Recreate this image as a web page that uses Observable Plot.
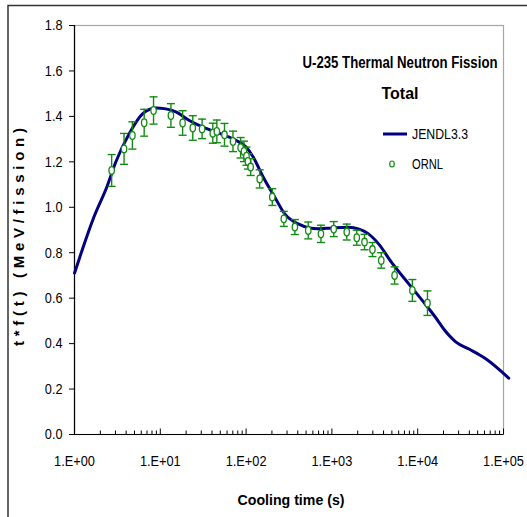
<!DOCTYPE html>
<html><head><meta charset="utf-8">
<script src="https://cdn.jsdelivr.net/npm/d3@7"></script>
<script src="https://cdn.jsdelivr.net/npm/@observablehq/plot@0.6"></script>
<style>
body{margin:0;background:#fff;}
#chart svg{display:block;}
</style></head>
<body><div id="chart"></div>
<script>
// JENDL3.3 calculated curve (cooling time s, t*f(t) MeV/fission)
const jendlTime = [1, 1.17, 1.68, 2.42, 3.02, 4.33, 6.21, 8.87, 11.6, 15.2, 21.8, 31.3, 44.8, 76.7, 100, 121, 158, 216, 282, 405, 695, 995, 1560, 2040, 2670, 3500, 5010, 7870, 11300, 16100, 20200, 27700, 39600, 62100, 115000];
const jendlValue = [0.71, 0.788, 0.956, 1.096, 1.198, 1.323, 1.411, 1.437, 1.433, 1.42, 1.382, 1.353, 1.331, 1.294, 1.265, 1.221, 1.133, 1.044, 0.971, 0.927, 0.905, 0.909, 0.912, 0.905, 0.883, 0.839, 0.755, 0.663, 0.59, 0.516, 0.463, 0.408, 0.376, 0.333, 0.248];
// ORNL measurements
const ornlTime = [2.71, 3.78, 4.73, 6.49, 8.34, 13.3, 18.2, 23.9, 30.7, 40.9, 45.6, 56.0, 70.3, 86.3, 94.4, 101, 105, 113, 144, 202, 275, 370, 530, 745, 1050, 1490, 1950, 2400, 2970, 3760, 5380, 8670, 13000];
const ornlValue = [1.162, 1.257, 1.316, 1.372, 1.426, 1.404, 1.371, 1.349, 1.345, 1.326, 1.334, 1.319, 1.29, 1.262, 1.246, 1.225, 1.202, 1.177, 1.125, 1.045, 0.949, 0.913, 0.898, 0.883, 0.904, 0.891, 0.866, 0.847, 0.814, 0.766, 0.7, 0.634, 0.578];
const ornlError = [0.07, 0.068, 0.06, 0.059, 0.06, 0.052, 0.054, 0.054, 0.043, 0.044, 0.05, 0.05, 0.045, 0.045, 0.045, 0.04, 0.034, 0.037, 0.04, 0.037, 0.033, 0.033, 0.037, 0.038, 0.033, 0.035, 0.033, 0.034, 0.031, 0.034, 0.038, 0.048, 0.054];
// axes
const yTicks = [0, 0.2, 0.4, 0.6, 0.8, 1.0, 1.2, 1.4, 1.6, 1.8];
const xTicks = [1, 10, 100, 1000, 10000, 100000];
const xTickLabels = ["1.E+00", "1.E+01", "1.E+02", "1.E+03", "1.E+04", "1.E+05"];
const titleLines = ["U-235 Thermal Neutron Fission", "Total"];
const seriesNames = ["JENDL3.3", "ORNL"];
const xTitle = "Cooling time (s)";
const yTitle = "t*f(t) (MeV/fission)";

const navy = "#000080", green = "#138a13";
const font = "'Liberation Sans',Arial,sans-serif";

const curve = jendlTime.map((t, i) => ({t, v: jendlValue[i]}));
const ornl = ornlTime.map((t, i) => ({t, v: ornlValue[i], e: ornlError[i]}));
const minorTicks = [];
for (let d = 1; d < 1e5; d *= 10) for (let k = 2; k <= 10; k++) minorTicks.push({t: d * k, major: k === 10});

const ellipse = {draw(ctx) {
  const rx = 2.7, ry = 3.8, k = 0.5523;
  ctx.moveTo(rx, 0);
  ctx.bezierCurveTo(rx, k*ry, k*rx, ry, 0, ry);
  ctx.bezierCurveTo(-k*rx, ry, -rx, k*ry, -rx, 0);
  ctx.bezierCurveTo(-rx, -k*ry, -k*rx, -ry, 0, -ry);
  ctx.bezierCurveTo(k*rx, -ry, rx, -k*ry, rx, 0);
  ctx.closePath();
}};
const cap = {draw(ctx) { ctx.moveTo(-4, 0); ctx.lineTo(4, 0); }};
const tickUpMinor = {draw(ctx) { ctx.moveTo(0, 0); ctx.lineTo(0, -4); }};
const tickUpMajor = {draw(ctx) { ctx.moveTo(0, 0); ctx.lineTo(0, -6); }};

const chart = Plot.plot({
  width: 527, height: 517,
  marginLeft: 74, marginRight: 24, marginTop: 25, marginBottom: 83,
  x: {type: "log", domain: [1, 1e5], axis: null},
  y: {domain: [0, 1.8], axis: null},
  style: {fontFamily: font, fontSize: "15px", color: "#000", background: "#fff", overflow: "visible"},
  marks: [
    Plot.frame({stroke: "#a6a6a6", strokeWidth: 1.2}),
    Plot.ruleY([0], {stroke: "#000", strokeWidth: 1.2}),
    Plot.ruleX([1], {stroke: "#000", strokeWidth: 1.2}),
    Plot.tickY(yTicks, {y: d => d, stroke: "#000", strokeWidth: 1, insetLeft: -5, insetRight: 429, clip: false}),
    Plot.text(yTicks, {y: d => d, frameAnchor: "left", dx: -12, textAnchor: "end", text: d => d.toFixed(1), fontSize: 15}),
    Plot.dot(minorTicks.filter(d => !d.major), {x: "t", y: 0, symbol: tickUpMinor, stroke: "#000", strokeWidth: 1}),
    Plot.dot(minorTicks.filter(d => d.major), {x: "t", y: 0, symbol: tickUpMajor, stroke: "#000", strokeWidth: 1}),
    Plot.text(xTicks, {x: d => d, frameAnchor: "bottom", dy: 31, text: (d, i) => xTickLabels[i], fontSize: 15}),
    Plot.line(curve, {x: "t", y: "v", stroke: navy, strokeWidth: 3, curve: "monotone-x", clip: false}),
    Plot.ruleX(ornl, {x: "t", y1: d => d.v - d.e, y2: d => d.v + d.e, stroke: green, strokeWidth: 1.4}),
    Plot.dot(ornl, {x: "t", y: d => d.v - d.e, symbol: cap, stroke: green, strokeWidth: 1.4}),
    Plot.dot(ornl, {x: "t", y: d => d.v + d.e, symbol: cap, stroke: green, strokeWidth: 1.4}),
    Plot.dot(ornl, {x: "t", y: "v", symbol: ellipse, fill: "white", stroke: green, strokeWidth: 1.3})
  ]
});
document.getElementById("chart").appendChild(chart);

const svg = d3.select(chart);
// condense tick labels (narrow face as in the original)
svg.selectAll("g[aria-label='text'] text").each(function() {
  const w = this.getComputedTextLength();
  d3.select(this).attr("textLength", (w * 0.85).toFixed(1)).attr("lengthAdjust", "spacingAndGlyphs");
});
function label(x, y, str, opts) {
  const t = svg.append("text").attr("x", x).attr("y", y)
    .attr("text-anchor", opts.anchor || "start").attr("font-family", font)
    .attr("font-size", opts.size).attr("font-weight", opts.bold ? "bold" : "normal")
    .attr("dy", opts.dy || null).text(str);
  if (opts.len) t.attr("textLength", opts.len).attr("lengthAdjust", "spacingAndGlyphs");
  if (opts.transform) t.attr("transform", opts.transform);
  return t;
}
// outer chart border (left and top visible)
svg.append("path").attr("d", "M8,517 V5.5 H527").attr("fill", "none").attr("stroke", "#333").attr("stroke-width", 1.5);
// title
label(400, 68, titleLines[0], {anchor: "middle", size: 16, bold: true, len: 195});
label(400, 99, titleLines[1], {anchor: "middle", size: 16, bold: true, len: 37});
// legend
svg.append("line").attr("x1", 383).attr("x2", 407).attr("y1", 134).attr("y2", 134).attr("stroke", navy).attr("stroke-width", 3);
label(412, 134, seriesNames[0], {size: 14, dy: "0.35em", len: 56});
svg.append("ellipse").attr("cx", 392).attr("cy", 164).attr("rx", 2.3).attr("ry", 3).attr("fill", "white").attr("stroke", green).attr("stroke-width", 1.2);
label(412, 164, seriesNames[1], {size: 14, dy: "0.35em", len: 31});
// axis titles
label(291, 505, xTitle, {anchor: "middle", size: 15, bold: true, len: 107});
label(0, 0, yTitle, {anchor: "middle", size: 15, bold: true, len: 218, transform: "translate(24,237) rotate(-90)"})
  .attr("lengthAdjust", "spacing");
</script>
</body></html>
